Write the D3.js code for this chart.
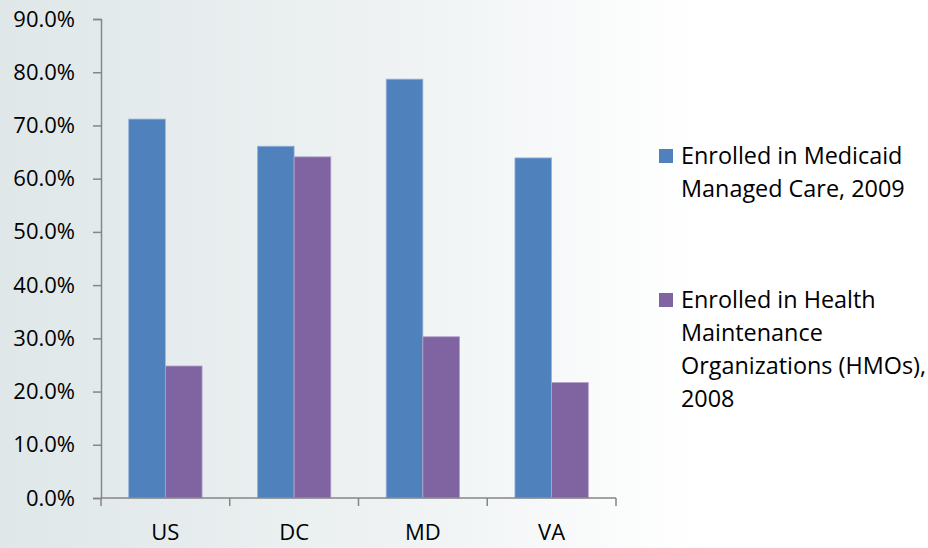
<!DOCTYPE html>
<html>
<head>
<meta charset="utf-8">
<script src="https://cdn.jsdelivr.net/npm/d3@7"></script>
<style>
  html, body { margin: 0; padding: 0; background: #fff; }
  svg { display: block; }
  text { font-family: "Open Sans", "Noto Sans", sans-serif; fill: #000; }
</style>
</head>
<body>
<svg id="chart" width="928" height="548"></svg>
<script>
// Share of Medicaid enrollees by state
const categories = ["US", "DC", "MD", "VA"];
const seriesNames = [
  ["Enrolled in Medicaid", "Managed Care, 2009"],
  ["Enrolled in Health", "Maintenance", "Organizations (HMOs),", "2008"]
];
const managedCare2009 = [71.2, 66.1, 78.7, 63.9];
const hmo2008 = [24.8, 64.1, 30.3, 21.7];
const yTicks = [0, 10, 20, 30, 40, 50, 60, 70, 80, 90];
const colors = ["#4F81BD", "#8064A2"];

const svg = d3.select("#chart");
const W = 928, H = 548;

// soft background wash
const defs = svg.append("defs");
const grad = defs.append("linearGradient")
  .attr("id", "bg")
  .attr("gradientUnits", "userSpaceOnUse")
  .attr("x1", 0).attr("x2", 700).attr("y1", 0).attr("y2", 0);
grad.append("stop").attr("offset", "0%").attr("stop-color", "#dfe7e8");
grad.append("stop").attr("offset", "55%").attr("stop-color", "#eef2f3");
grad.append("stop").attr("offset", "100%").attr("stop-color", "#ffffff");
svg.append("rect").attr("width", W).attr("height", H).attr("fill", "url(#bg)");

const plot = { left: 101, right: 616, top: 19, bottom: 498 };

const x0 = d3.scaleBand()
  .domain(categories)
  .range([plot.left, plot.right])
  .paddingInner(0.43)
  .paddingOuter(0.215);
const x1 = d3.scaleBand()
  .domain([0, 1])
  .range([0, x0.bandwidth()]);
const y = d3.scaleLinear().domain([0, 90]).range([plot.bottom, plot.top]);

const rows = categories.map((c, i) => ({ cat: c, vals: [managedCare2009[i], hmo2008[i]] }));

// bars
const groups = svg.append("g").selectAll("g")
  .data(rows).join("g")
  .attr("transform", d => `translate(${x0(d.cat)},0)`);
groups.selectAll("rect")
  .data(d => d.vals.map((v, k) => ({ v, k })))
  .join("rect")
  .attr("x", d => x1(d.k))
  .attr("y", d => y(d.v))
  .attr("width", x1.bandwidth())
  .attr("height", d => y(0) - y(d.v))
  .attr("fill", d => colors[d.k])
  .attr("stroke", d => d.k === 0 ? "#9bb7dc" : "#b3a2cc")
  .attr("stroke-width", 0.8);

// y axis
const axisColor = "#868686";
const yAxis = svg.append("g")
  .attr("transform", `translate(${plot.left},0)`)
  .call(d3.axisLeft(y).tickValues(yTicks).tickSize(8).tickPadding(18)
    .tickFormat(d => d.toFixed(1) + "%"));
yAxis.select(".domain").attr("stroke", axisColor).attr("stroke-width", 1.5);
yAxis.selectAll(".tick line").attr("stroke", axisColor).attr("stroke-width", 1.5);
yAxis.selectAll(".tick text").attr("font-size", 22).attr("fill", "#000")
  .attr("font-family", "'Open Sans', sans-serif");

// x axis with boundary ticks between categories
const xAxis = svg.append("g").attr("transform", `translate(0,${plot.bottom})`);
xAxis.append("line")
  .attr("x1", plot.left).attr("x2", plot.right)
  .attr("stroke", axisColor).attr("stroke-width", 1.5);
const step = x0.step();
const bounds = d3.range(categories.length + 1).map(i => plot.left + i * step);
xAxis.selectAll("line.tk").data(bounds).join("line")
  .attr("class", "tk")
  .attr("x1", d => d).attr("x2", d => d)
  .attr("y1", 0).attr("y2", 8)
  .attr("stroke", axisColor).attr("stroke-width", 1.5);
xAxis.selectAll("text").data(categories).join("text")
  .attr("x", d => x0(d) + x0.bandwidth() / 2)
  .attr("y", 42)
  .attr("text-anchor", "middle")
  .attr("font-size", 22)
  .text(d => d);

// legend
const legend = svg.append("g");
const legendTops = [149, 293];
seriesNames.forEach((lines, k) => {
  const g = legend.append("g").attr("transform", `translate(659,${legendTops[k]})`);
  g.append("rect").attr("width", 14).attr("height", 14).attr("fill", colors[k]);
  const t = g.append("text").attr("x", 22).attr("y", 15).attr("font-size", 23.4);
  lines.forEach((ln, j) => {
    t.append("tspan").attr("x", 22).attr("dy", j === 0 ? 0 : 33).text(ln);
  });
});
</script>
</body>
</html>
